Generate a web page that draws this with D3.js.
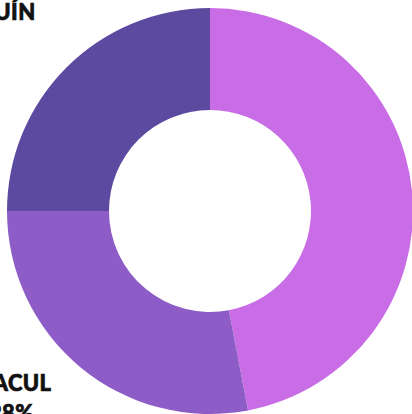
<!DOCTYPE html>
<html>
<head>
<meta charset="utf-8">
<script src="https://cdn.jsdelivr.net/npm/d3@7"></script>
<style>
  html, body { margin: 0; padding: 0; background: #ffffff; }
  svg { display: block; }
  .label text { font-family: "Lato Black", Lato, "Open Sans", sans-serif; font-weight: 900; font-size: 22px; fill: #111; stroke: #111; stroke-width: 0.7px; letter-spacing: 0.4px; }
</style>
</head>
<body>
<svg id="chart" width="412" height="414"></svg>
<script>
// Share of each comuna
const comunas = ["LA FLORIDA", "MACUL", "SAN JOAQUÍN"];
const shares = [47, 28, 25];
const shareLabels = ["47%", "28%", "25%"];
const colors = ["#c86de6", "#8e5cc6", "#5b4a9f"];

const width = 412, height = 414;
const cx = 210, cy = 211;
const outerR = 203, innerR = 101;

const svg = d3.select("#chart");
const g = svg.append("g").attr("transform", `translate(${cx},${cy})`);

const pie = d3.pie().sort(null).value(d => d.value);
const data = comunas.map((c, i) => ({ name: c, value: shares[i], label: shareLabels[i], color: colors[i] }));
const arcs = pie(data);

const arc = d3.arc().innerRadius(innerR).outerRadius(outerR);

g.selectAll("path.slice")
  .data(arcs)
  .join("path")
  .attr("class", "slice")
  .attr("d", arc)
  .attr("fill", d => d.data.color);

// Outside labels: the inner edge of each two-line block touches a circle
// around the ring at the slice's mid-angle; blocks hang outward to the side.
const labelR = 251;
const lift = -7;
const lineGap = 30;

const labels = g.selectAll("g.label")
  .data(arcs)
  .join("g")
  .attr("class", "label");

const inner = labels.append("g");
inner.append("text")
  .attr("text-anchor", "middle")
  .attr("y", 0)
  .text(d => d.data.name);
inner.append("text")
  .attr("text-anchor", "middle")
  .attr("y", lineGap)
  .text(d => d.data.label);

inner.each(function(d) {
  const box = this.getBBox();
  const mid = (d.startAngle + d.endAngle) / 2;
  const dx = Math.sin(mid), dy = -Math.cos(mid);
  const side = dx >= 0 ? 1 : -1;
  const ccx = labelR * dx + side * 0.96 * box.width / 2;
  const ccy = labelR * dy + lift;
  const px = ccx - (box.x + box.width / 2);
  const py = ccy - (box.y + box.height / 2);
  d3.select(this).attr("transform", `translate(${px},${py})`);
});
</script>
</body>
</html>
